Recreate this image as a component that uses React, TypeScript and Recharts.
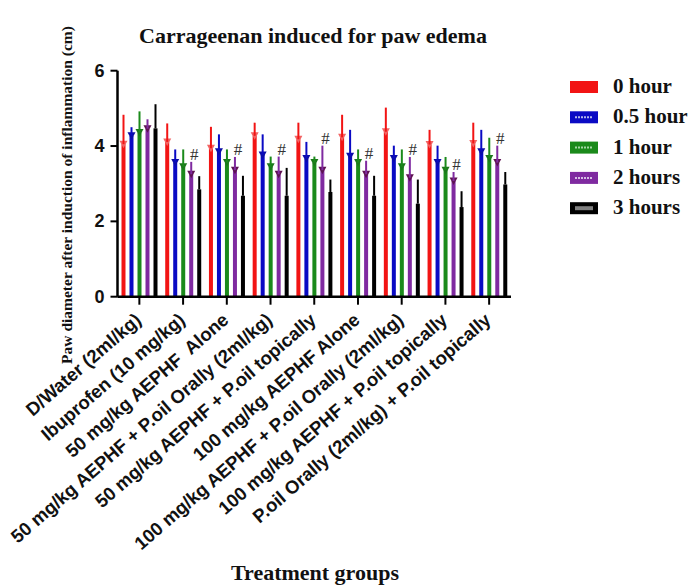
import React from 'react';
import { BarChart, Bar, XAxis, YAxis, ErrorBar, LabelList } from 'recharts';

const groups = [
  'D/Water (2ml/kg)',
  'Ibuprofen (10 mg/kg)',
  '50 mg/kg AEPHF  Alone',
  '50 mg/kg AEPHF + P.oil Orally (2ml/kg)',
  '50 mg/kg AEPHF + P.oil topically',
  '100 mg/kg AEPHF Alone',
  '100 mg/kg AEPHF + P.oil Orally (2ml/kg)',
  '100 mg/kg AEPHF + P.oil topically',
  'P.oil Orally (2ml/kg) + P.oil topically',
];

const hour0 = [4.05, 4.11, 3.94, 4.27, 4.18, 4.23, 4.38, 4.04, 4.07];
const hour0Top = [4.83, 4.6, 4.51, 4.62, 4.62, 4.83, 5.02, 4.43, 4.62];
const hour05 = [4.27, 3.56, 3.85, 3.76, 3.67, 3.73, 3.67, 3.56, 3.85];
const hour05Top = [4.5, 3.91, 4.31, 4.31, 4.11, 4.43, 4.01, 4.01, 4.43];
const hour1 = [4.36, 3.45, 3.56, 3.45, 3.56, 3.56, 3.45, 3.36, 3.67];
const hour1Top = [4.92, 3.91, 3.91, 3.72, 3.72, 3.91, 3.91, 3.71, 4.22];
const hour2 = [4.46, 3.25, 3.36, 3.25, 3.36, 3.25, 3.16, 3.07, 3.56];
const hour2Top = [4.71, 3.58, 3.71, 3.72, 4.01, 3.61, 3.71, 3.31, 4.01];
const hour3 = [4.47, 2.85, 2.68, 2.68, 2.78, 2.68, 2.47, 2.38, 2.98];
const hour3Top = [5.11, 3.2, 3.21, 3.42, 3.11, 3.21, 3.11, 2.8, 3.31];
const significance = ['', '#', '#', '#', '#', '#', '#', '#', '#'];

const yTicks = [0, 2, 4, 6];

const series = [
  { key: 'h0', name: '0 hour', mean: hour0, top: hour0Top, color: '#f21414', tri: '#f26464', inner: null },
  { key: 'h05', name: '0.5 hour', mean: hour05, top: hour05Top, color: '#0a0ac4', tri: '#0c0ca6', inner: '#b4b8ea' },
  { key: 'h1', name: '1 hour', mean: hour1, top: hour1Top, color: '#1b8a1b', tri: '#1b781b', inner: '#a6d6a6' },
  { key: 'h2', name: '2 hours', mean: hour2, top: hour2Top, color: '#7f2aa0', tri: '#5e1252', inner: '#d6bfe4' },
  { key: 'h3', name: '3 hours', mean: hour3, top: hour3Top, color: '#000000', tri: null, inner: '#808080' },
];

const data = groups.map((g, i) => {
  const row: any = { group: g, sig: significance[i] };
  series.forEach((s) => {
    row[s.key] = s.mean[i];
    row[s.key + 'e'] = [0, +(s.top[i] - s.mean[i]).toFixed(3)];
  });
  return row;
});

const makeShape = (s: any) => (p: any) => {
  const { x, y, width, height } = p;
  if (x == null || y == null) return null;
  const cx = x + width / 2;
  return (
    <g>
      <rect x={x} y={y} width={width} height={height} fill={s.color} />
      {s.tri && (
        <polygon
          points={`${cx - 4},${y - 3.5} ${cx + 4},${y - 3.5} ${cx},${y + 4}`}
          fill={s.tri}
        />
      )}
    </g>
  );
};

const HashLabel = (p: any) => {
  const { x, y, width, height, index, value } = p;
  if (!value) return null;
  const m = hour2[index];
  const t = hour2Top[index];
  const ppu = height / m;
  const ty = y - (t - m) * ppu;
  return (
    <text
      x={x + width / 2 + 3}
      y={ty - 2}
      textAnchor="middle"
      fontFamily="Liberation Serif, serif"
      fontSize={17}
      fill="#333"
    >
      {value}
    </text>
  );
};

const XTick = (p: any) => {
  const { x, y, payload } = p;
  const ax = x + 3;
  const ay = y + 15;
  return (
    <text
      x={ax}
      y={ay}
      transform={`rotate(-41 ${ax} ${ay})`}
      textAnchor="end"
      fontFamily="Liberation Sans, Arial, sans-serif"
      fontWeight="bold"
      fontSize={18.5}
      fill="#111"
      style={{ whiteSpace: 'pre' }}
    >
      {payload.value}
    </text>
  );
};

const YTick = (p: any) => {
  const { x, y, payload } = p;
  return (
    <text
      x={x}
      y={y}
      dy={6}
      textAnchor="end"
      fontFamily="Liberation Sans, Arial, sans-serif"
      fontWeight="bold"
      fontSize={18}
      fill="#111"
    >
      {payload.value}
    </text>
  );
};

const serif = 'Liberation Serif, Times New Roman, serif';

export default function App() {
  return (
    <div style={{ position: 'absolute', left: 0, top: 0, width: 692, height: 588, background: '#fff' }}>
      <BarChart
        width={692}
        height={588}
        data={data}
        margin={{ top: 70.7, right: 181, bottom: 0, left: 0 }}
        barGap={4}
        barCategoryGap={0}
      >
        <text
          x={313}
          y={43}
          textAnchor="middle"
          fontFamily={serif}
          fontWeight="bold"
          fontSize={22}
          fill="#111"
        >
          Carrageenan induced for paw edema
        </text>
        <text
          x={315}
          y={580}
          textAnchor="middle"
          fontFamily={serif}
          fontWeight="bold"
          fontSize={22}
          fill="#111"
        >
          Treatment groups
        </text>
        <text
          x={72}
          y={195}
          transform="rotate(-90 72 195)"
          textAnchor="middle"
          fontFamily={serif}
          fontWeight="bold"
          fontSize={15.5}
          fill="#111"
        >
          Paw diameter after induction of inflammation (cm)
        </text>
        <XAxis
          dataKey="group"
          height={291.3}
          interval={0}
          tick={<XTick />}
          tickSize={8}
          axisLine={{ stroke: '#000', strokeWidth: 2.5 }}
          tickLine={{ stroke: '#000', strokeWidth: 2 }}
        />
        <YAxis
          width={117.5}
          domain={[0, 6]}
          ticks={yTicks}
          tick={<YTick />}
          tickSize={7}
          tickMargin={6}
          axisLine={{ stroke: '#000', strokeWidth: 2.5 }}
          tickLine={{ stroke: '#000', strokeWidth: 2 }}
        />
        {series.map((s) => (
          <Bar
            key={s.key}
            dataKey={s.key}
            name={s.name}
            fill={s.color}
            barSize={4}
            isAnimationActive={false}
            shape={makeShape(s)}
          >
            <ErrorBar dataKey={s.key + 'e'} width={0} stroke={s.color} strokeWidth={2} direction="y" />
            {s.key === 'h2' && <LabelList dataKey="sig" content={<HashLabel />} />}
          </Bar>
        ))}
        {series.map((s, i) => {
          const ly = 87 + i * 30.3;
          return (
            <g key={'leg' + s.key}>
              <rect x={570} y={ly - 6} width={28} height={12} fill={s.color} />
              {s.inner && (
                <line
                  x1={575}
                  x2={593}
                  y1={ly}
                  y2={ly}
                  stroke={s.inner}
                  strokeWidth={s.key === 'h3' ? 4 : 2}
                  strokeDasharray={s.key === 'h3' ? undefined : '2 1'}
                />
              )}
              <text
                x={613}
                y={ly + 6}
                fontFamily={serif}
                fontWeight="bold"
                fontSize={21}
                fill="#111"
              >
                {s.name}
              </text>
            </g>
          );
        })}
      </BarChart>
    </div>
  );
}
